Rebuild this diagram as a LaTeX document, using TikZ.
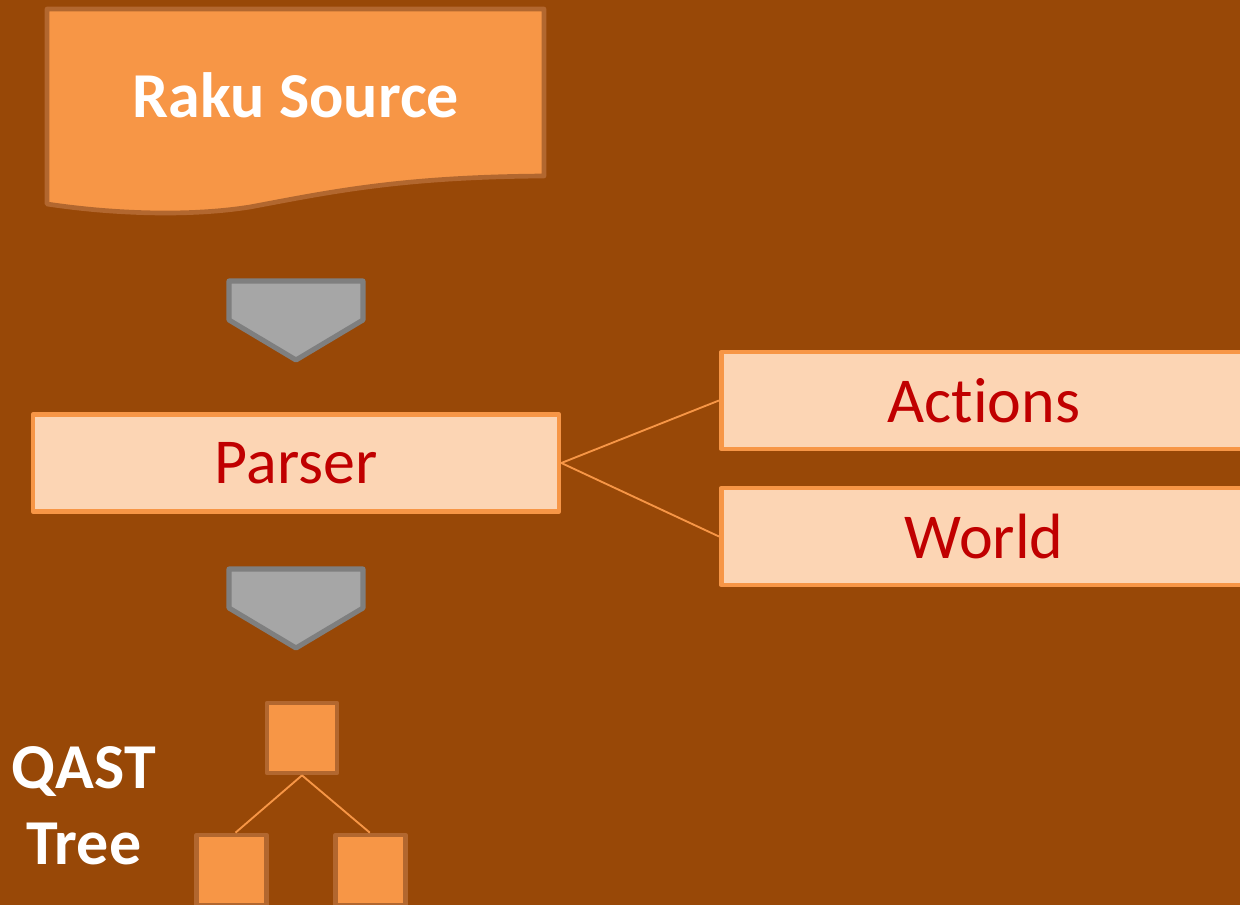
\documentclass[tikz,border=0pt]{standalone}
\usepackage{fontspec}
\setmainfont[Ligatures=NoCommon]{Carlito}
\begin{document}
\begin{tikzpicture}[x=0.75pt,y=-0.75pt,
  line join=round,
  docshape/.style={fill=accent, draw=edgebrown, line width=3.5pt},
  chevron/.style={fill=chevfill, draw=chevedge, line width=3.8pt},
  procbox/.style={fill=paleorange, draw=accent, line width=3.5pt, inner sep=0pt},
  boxtext/.style={text=darkred, font=\fontsize{48}{54}\selectfont},
  boldtext/.style={text=white, font=\bfseries\fontsize{48}{54}\selectfont},
  treebox/.style={fill=accent, draw=edgebrown, line width=3.5pt, inner sep=0pt,
                  minimum width=52.5pt, minimum height=52.5pt},
  link/.style={draw=accent, line width=1.4pt}]
\definecolor{bg}{HTML}{984807}
\definecolor{accent}{HTML}{F79646}
\definecolor{edgebrown}{HTML}{B2672F}
\definecolor{chevfill}{HTML}{A6A6A6}
\definecolor{chevedge}{HTML}{7F7F7F}
\definecolor{paleorange}{HTML}{FCD5B4}
\definecolor{darkred}{HTML}{C00000}

% background and page frame
\fill[bg] (0,0) rectangle (1240,905);
\useasboundingbox (0,0) rectangle (1240,905);

% source document with wavy lower edge
\draw[docshape] (47,9) -- (544,9) -- (544,176)
  .. controls (400,177) and (330,192) .. (250,207)
  .. controls (180,218) and (100,212) .. (47,204) -- cycle;
\node[boldtext] (src) at (296,95) {Raku Source};

% flow chevrons
\draw[chevron] (229,281) -- (363,281) -- (363,320) -- (296,360) -- (229,320) -- cycle;
\draw[chevron] (229,569) -- (363,569) -- (363,608) -- (296,648) -- (229,608) -- cycle;

% parser and its collaborators
\node[procbox, minimum width=394.5pt, minimum height=72.75pt] (parser) at (296,463) {};
\node[boxtext] at (parser.center) {Parser};

\node[procbox, minimum width=420pt, minimum height=72.75pt, anchor=west]
  (actions) at (719,400.5) {};
\node[boxtext] at (984,401) {Actions};

\node[procbox, minimum width=420pt, minimum height=72.75pt, anchor=west]
  (world) at (719,536.5) {};
\node[boxtext] at (984,537) {World};

\draw[link] (parser.east) -- (actions.west);
\draw[link] (parser.east) -- (world.west);

% QAST tree
\node[treebox] (root) at (302,738) {};
\node[treebox] (leftleaf) at (231.5,870) {};
\node[treebox] (rightleaf) at (370.5,870) {};
\draw[link] (root.south) -- ([xshift=3pt]leftleaf.north);
\draw[link] (root.south) -- ([xshift=-0.5pt]rightleaf.north);

\node[boldtext, align=center, font=\bfseries\fontsize{48}{57}\selectfont]
  (qast) at (84,806) {QAST\\Tree};
\end{tikzpicture}
\end{document}
